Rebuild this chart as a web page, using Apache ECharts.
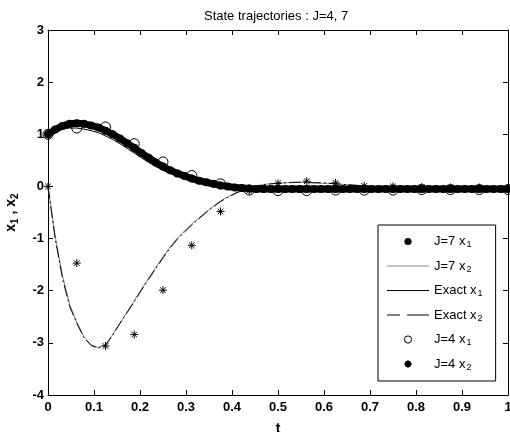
<!DOCTYPE html>
<html><head><meta charset="utf-8">
<script src="https://cdn.jsdelivr.net/npm/echarts@6/dist/echarts.min.js"></script>
<style>html,body{margin:0;padding:0;background:#fff}#c{width:510px;height:432px}</style>
</head><body><div id="c"></div>
<script>
// time grid of the J=7 solution / exact curves
const tFine = [0, 0.015625, 0.03125, 0.046875, 0.0625, 0.078125, 0.09375, 0.109375, 0.125, 0.140625, 0.15625, 0.171875, 0.1875, 0.203125, 0.21875, 0.234375, 0.25, 0.265625, 0.28125, 0.296875, 0.3125, 0.328125, 0.34375, 0.359375, 0.375, 0.390625, 0.40625, 0.421875, 0.4375, 0.453125, 0.46875, 0.484375, 0.5, 0.515625, 0.53125, 0.546875, 0.5625, 0.578125, 0.59375, 0.609375, 0.625, 0.640625, 0.65625, 0.671875, 0.6875, 0.703125, 0.71875, 0.734375, 0.75, 0.765625, 0.78125, 0.796875, 0.8125, 0.828125, 0.84375, 0.859375, 0.875, 0.890625, 0.90625, 0.921875, 0.9375, 0.953125, 0.96875, 0.984375, 1];
const j7x1 = [1.00, 1.09, 1.16, 1.20, 1.21, 1.20, 1.17, 1.13, 1.07, 1.00, 0.92, 0.83, 0.74, 0.64, 0.55, 0.46, 0.38, 0.31, 0.25, 0.20, 0.15, 0.11, 0.08, 0.05, 0.02, 0.00, -0.02, -0.03, -0.04, -0.05, -0.05, -0.05, -0.05,
  -0.05, -0.05, -0.05, -0.05, -0.05, -0.05, -0.05, -0.05, -0.05, -0.05, -0.05, -0.05, -0.05, -0.05, -0.05, -0.05, -0.05, -0.05, -0.05, -0.05, -0.05, -0.05, -0.05, -0.05, -0.05, -0.05, -0.05, -0.05, -0.05, -0.05, -0.05, -0.05];
const exactX1 = [1.00, 1.06, 1.10, 1.12, 1.12, 1.10, 1.07, 1.03, 0.97, 0.90, 0.82, 0.73, 0.64, 0.55, 0.46, 0.38, 0.31, 0.25, 0.20, 0.16, 0.12, 0.09, 0.06, 0.03, 0.01, -0.01, -0.02, -0.03, -0.04, -0.05, -0.05, -0.05, -0.05,
  -0.05, -0.05, -0.05, -0.05, -0.05, -0.05, -0.05, -0.05, -0.05, -0.05, -0.05, -0.05, -0.05, -0.05, -0.05, -0.05, -0.05, -0.05, -0.05, -0.05, -0.05, -0.05, -0.05, -0.05, -0.05, -0.05, -0.05, -0.05, -0.05, -0.05, -0.05, -0.05];
const exactX2 = [0.00, -1.00, -1.75, -2.30, -2.62, -2.90, -3.05, -3.10, -3.05, -2.85, -2.63, -2.42, -2.21, -1.99, -1.78, -1.57, -1.37, -1.18, -1.01, -0.87, -0.74, -0.62, -0.50, -0.39, -0.29, -0.21, -0.14, -0.08, -0.03, 0.00, 0.03, 0.05, 0.06, 0.07, 0.08, 0.08, 0.08, 0.07, 0.07, 0.06, 0.05, 0.04, 0.03, 0.02, 0.01, 0.00,
  -0.01, -0.01, -0.01, -0.02, -0.02, -0.02, -0.02, -0.02, -0.02, -0.02, -0.02, -0.02, -0.02, -0.02, -0.02, -0.02, -0.02, -0.02, -0.02];
const j7x2 = [0.00, -0.95, -1.70, -2.26, -2.60, -2.88, -3.04, -3.09, -3.03, -2.84, -2.62, -2.41, -2.19, -1.97, -1.76, -1.55, -1.35, -1.16, -0.99, -0.85, -0.72, -0.60, -0.49, -0.38, -0.28, -0.20, -0.13, -0.07, -0.02, 0.01, 0.04, 0.05, 0.06, 0.07, 0.07, 0.08, 0.07, 0.07, 0.06, 0.06, 0.05, 0.04, 0.03, 0.02, 0.01, 0.00,
  -0.01, -0.01, -0.01, -0.01, -0.02, -0.02, -0.02, -0.02, -0.02, -0.02, -0.02, -0.02, -0.02, -0.02, -0.02, -0.02, -0.02, -0.02, -0.02];
// J=4 solution samples
const tCoarse = [0, 0.0625, 0.125, 0.1875, 0.25, 0.3125, 0.375, 0.4375, 0.5, 0.5625, 0.625, 0.6875, 0.75, 0.8125, 0.875, 0.9375, 1];
const j4x1 = [1.00, 1.12, 1.14, 0.82, 0.47, 0.21, 0.05, -0.07, -0.08, -0.08, -0.07, -0.07, -0.07, -0.06, -0.06, -0.06, -0.06];
const j4x2 = [0.00, -1.47, -3.06, -2.84, -1.99, -1.13, -0.48, -0.08, 0.06, 0.10, 0.07, 0.01, 0.00, -0.01, -0.02, -0.02, -0.03];
const seriesNames = ['J=7 x1', 'J=7 x2', 'Exact x1', 'Exact x2', 'J=4 x1', 'J=4 x2'];
const titleText = 'State trajectories : J=4, 7';

const pair = (t, v) => t.map((x, i) => [x, v[i]]);
const FONT = 'Arial, "Liberation Sans", sans-serif';
const starPath = 'path://M5,0L5,10M0,5L10,5M1.5,1.5L8.5,8.5M1.5,8.5L8.5,1.5';

const chart = echarts.init(document.getElementById('c'), null, {renderer: 'canvas'});
const axisCommon = {
  type: 'value', min: 0, max: 1, interval: 0.1,
  axisLine: {show: true, onZero: false, lineStyle: {color: '#000', width: 1}},
  axisTick: {show: true, inside: true, length: 5, lineStyle: {color: '#000'}},
  splitLine: {show: false}
};
const yCommon = {
  type: 'value', min: -4, max: 3, interval: 1,
  axisLine: {show: true, onZero: false, lineStyle: {color: '#000', width: 1}},
  axisTick: {show: true, inside: true, length: 5, lineStyle: {color: '#000'}},
  splitLine: {show: false}
};
const labelStyle = {color: '#000', fontSize: 13, fontWeight: 'bold', fontFamily: FONT};

chart.setOption({
  animation: false,
  backgroundColor: '#fff',
  title: {
    text: titleText, left: 199, top: 5,
    textStyle: {fontSize: 13, fontWeight: 'normal', color: '#000', fontFamily: FONT}
  },
  grid: {left: 48, right: 2, top: 30, bottom: 37, containLabel: false, outerBoundsMode: 'none'},
  xAxis: [
    Object.assign({}, axisCommon, {position: 'bottom', axisLabel: Object.assign({margin: 6}, labelStyle),
      name: 't', nameLocation: 'middle', nameGap: 27,
      nameTextStyle: {color: '#000', fontSize: 14, fontWeight: 'bold', fontFamily: FONT}}),
    Object.assign({}, axisCommon, {position: 'top', axisLabel: {show: false}})
  ],
  yAxis: [
    Object.assign({}, yCommon, {position: 'left', axisLabel: Object.assign({margin: 4}, labelStyle),
      name: '{a|x}{s|1}{a| , x}{s|2}', nameLocation: 'middle', nameGap: 28, nameRotate: 90,
      nameTextStyle: {color: '#000', fontFamily: FONT, rich: {
        a: {fontSize: 14, fontWeight: 'bold', color: '#000', fontFamily: FONT},
        s: {fontSize: 10, fontWeight: 'bold', color: '#000', fontFamily: FONT, padding: [7, 0, 0, 0], verticalAlign: 'bottom'}
      }}}),
    Object.assign({}, yCommon, {position: 'right', axisLabel: {show: false}})
  ],
  legend: {
    orient: 'vertical', left: 378, top: 225,
    padding: [10, 13, 9, 8],
    itemWidth: 42, itemHeight: 9, itemGap: 10,
    backgroundColor: '#fff', borderColor: '#000', borderWidth: 1,
    data: [
      {name: seriesNames[0], lineStyle: {opacity: 0}},
      {name: seriesNames[1], itemStyle: {opacity: 0}, lineStyle: {width: 1, color: '#8a8a8a'}},
      {name: seriesNames[2], itemStyle: {opacity: 0}, lineStyle: {width: 1}},
      {name: seriesNames[3], itemStyle: {opacity: 0}, lineStyle: {width: 1, type: [13, 7, 30, 2]}},
      {name: seriesNames[4], itemStyle: {borderWidth: 1, borderColor: '#000'}},
      {name: seriesNames[5]}
    ],
    formatter: n => '{a|' + n.slice(0, n.length - 1) + '}{s|' + n.slice(-1) + '}',
    textStyle: {color: '#000', fontFamily: FONT, rich: {
      a: {fontSize: 13, color: '#000', fontFamily: FONT},
      s: {fontSize: 9, color: '#000', fontFamily: FONT, padding: [7, 0, 0, 1], verticalAlign: 'bottom'}
    }}
  },
  series: [
    {name: seriesNames[2], type: 'line', data: pair(tFine, exactX1), symbol: 'none',
      lineStyle: {color: '#000', width: 1}, itemStyle: {color: '#000'}, z: 2},
    {name: seriesNames[1], type: 'line', data: pair(tFine, j7x2), symbol: 'none',
      lineStyle: {color: '#8a8a8a', width: 1}, itemStyle: {color: '#8a8a8a'}, z: 2},
    {name: seriesNames[3], type: 'line', data: pair(tFine, exactX2), symbol: 'none',
      lineStyle: {color: '#000', width: 1, type: [12, 3, 2, 3]}, itemStyle: {color: '#000'}, z: 2},
    {name: seriesNames[0], type: 'line', data: pair(tFine, j7x1), symbol: 'circle', symbolSize: 8,
      showSymbol: true, showAllSymbol: true,
      lineStyle: {color: '#000', width: 7}, itemStyle: {color: '#000'}, z: 3},
    {name: seriesNames[4], type: 'line', data: pair(tCoarse, j4x1), symbol: 'circle', symbolSize: 10,
      showSymbol: true, showAllSymbol: true,
      lineStyle: {width: 0, opacity: 0}, itemStyle: {color: 'rgba(0,0,0,0)', borderColor: '#000', borderWidth: 1}, z: 5},
    {name: seriesNames[5], type: 'line', data: pair(tCoarse, j4x2), symbol: starPath, symbolSize: 8,
      showSymbol: true, showAllSymbol: true,
      lineStyle: {width: 0, opacity: 0}, itemStyle: {color: 'rgba(0,0,0,0)', borderColor: '#000', borderWidth: 1}, z: 5}
  ]
});
</script>
</body></html>
